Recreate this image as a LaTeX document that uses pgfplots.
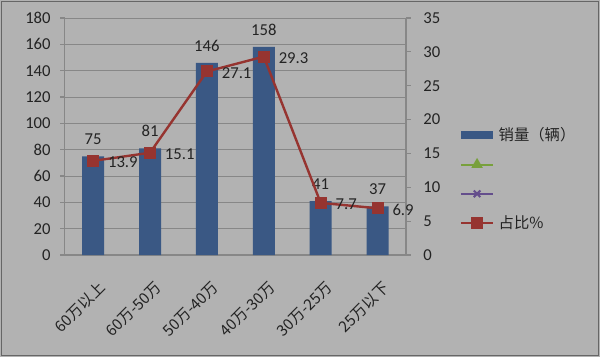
\documentclass[border=0pt]{standalone}
\usepackage{pgfplots}
\pgfplotsset{compat=1.18}
\usepackage{fontspec}
\setmainfont{Carlito}
\newfontfamily\cjk{Noto Sans CJK SC}
\definecolor{bg}{RGB}{178,178,178}
\definecolor{gridc}{RGB}{135,135,135}
\definecolor{barblue}{RGB}{58,88,132}
\definecolor{linered}{RGB}{150,52,48}
\definecolor{lgreen}{RGB}{120,160,60}
\definecolor{lpurple}{RGB}{100,78,140}
\definecolor{txt}{RGB}{35,35,35}
\begin{document}
\begin{tikzpicture}[x=1pt,y=1pt]
\fill[bg] (0,0) rectangle (450,267.75);
\draw[black!60, line width=0.9pt] (1.2,1.2) rectangle (448.8,266.5);
\useasboundingbox (0,0) rectangle (450,267.75);
\begin{axis}[
  at={(48.5pt,76.5pt)}, anchor=south west, scale only axis,
  width=256pt, height=177.75pt,
  xmin=-0.5, xmax=5.5, ymin=0, ymax=180,
  ytick={0,20,...,180},
  ymajorgrids, grid style={gridc, line width=0.6pt},
  axis x line*=bottom, axis y line*=left,
  axis line style={gridc, line width=0.8pt},
  xtick={0,...,5},
  xticklabels={60万以上,60万-50万,50万-40万,40万-30万,30万-25万,25万以下},
  xticklabel style={font=\cjk\fontsize{11.5}{13}\selectfont, yshift=-15pt, xshift=3pt, rotate=45, anchor=north east, text=txt, inner sep=0pt},
  major x tick style={draw=none},
  extra x ticks={-0.5,0.5,1.5,2.5,3.5,4.5,5.5},
  extra x tick labels={},
  extra x tick style={major tick length=4pt, tick align=outside, tick style={gridc, line width=0.8pt}, grid=none},
  y tick style={gridc, line width=0.8pt}, tick align=outside, major tick length=3.5pt,
  yticklabel style={font=\fontsize{12.5}{14}\selectfont, text=txt, xshift=-3.5pt},
  /pgf/number format/assume math mode=true,
  clip=false,
]
\addplot[ybar, bar width=16.5pt, fill=barblue, draw=none,
  nodes near coords, nodes near coords style={font=\fontsize{12.5}{14}\selectfont, text=txt, anchor=south, yshift=5pt}]
  coordinates {(0,75) (1,81) (2,146) (3,158) (4,41) (5,37)};
\end{axis}
\begin{axis}[
  at={(48.5pt,76.5pt)}, anchor=south west, scale only axis,
  width=256pt, height=177.75pt,
  xmin=-0.5, xmax=5.5, ymin=0, ymax=35,
  ytick={0,5,...,35},
  axis x line=none, axis y line*=right,
  axis line style={gridc, line width=0.8pt},
  y tick style={gridc, line width=0.8pt}, tick align=outside, major tick length=3.5pt,
  yticklabel style={font=\fontsize{12.5}{14}\selectfont, text=txt, xshift=6pt},
  /pgf/number format/assume math mode=true,
  clip=false,
  legend style={draw=none, fill=none, at={(1.15,0.55)}, anchor=north west,
    font=\cjk\fontsize{11.5}{13.8}\selectfont, text=txt, row sep=6.8pt,
    inner sep=0pt, nodes={inner xsep=1.5pt}},
  legend cell align=left,
  legend image code/.code={\draw[mark repeat=2,mark phase=2,#1] plot coordinates {(0cm,0cm) (0.42cm,0cm) (0.84cm,0cm)};},
]
\addlegendimage{barblue, line width=5.5pt}
\addlegendentry{\strut 销量（辆）}
\addlegendimage{lgreen, line width=1.5pt, mark=triangle*, mark size=3.5pt, mark options={fill=lgreen}}
\addlegendentry{\strut}
\addlegendimage{lpurple, line width=1.5pt, mark=x, mark size=3.5pt}
\addlegendentry{\strut}
\addplot[linered, line width=1.8pt, mark=square*, mark size=3.6pt, mark options={fill=linered},
  nodes near coords, point meta=explicit symbolic,
  nodes near coords style={font=\fontsize{12.5}{14}\selectfont, text=txt, anchor=west, xshift=7pt, yshift=-1pt}]
  coordinates {(0,13.9)[13.9] (1,15.1)[15.1] (2,27.1)[27.1] (3,29.3)[29.3] (4,7.7)[7.7] (5,6.9)[6.9]};
\addlegendentry{\strut 占比\%}
\end{axis}
\end{tikzpicture}
\end{document}
